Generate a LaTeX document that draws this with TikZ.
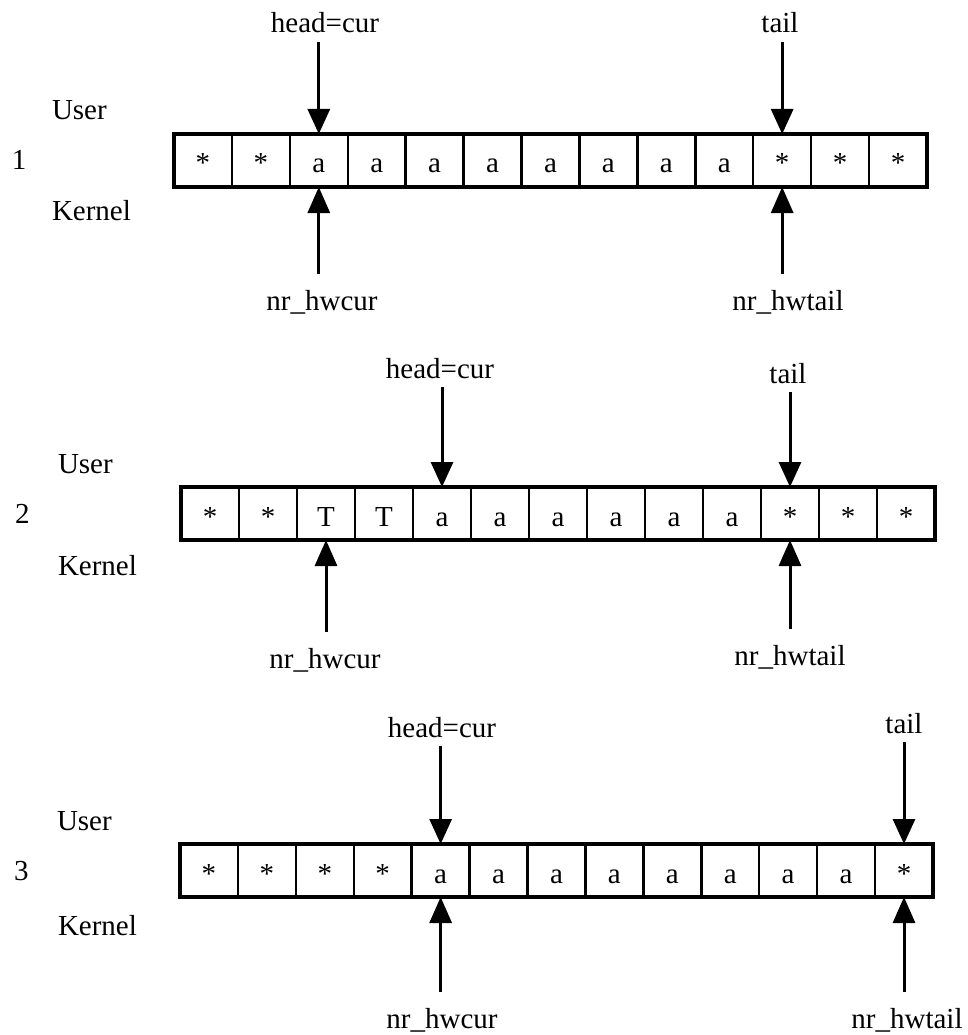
\documentclass[tikz,border=0pt]{standalone}
\usepackage{fontspec}
\setmainfont{Liberation Serif}
\usetikzlibrary{arrows.meta}
\begin{document}
\begin{tikzpicture}[x=1pt,y=-1pt,
  every node/.style={font=\fontsize{29}{34}\selectfont, inner sep=0pt, outer sep=0pt},
  cell/.style={draw, line width=2.5pt, minimum width=57.92pt, minimum height=53pt, text height=25pt, text depth=0pt},
  lab/.style={anchor=base, text height=20pt, text depth=7pt},
  side/.style={anchor=base west},
  down/.style={-{Triangle[length=25pt,width=22pt]}, line width=3pt, shorten <=2pt},
  up/.style={-{Triangle[length=26pt,width=22pt]}, line width=3pt, shorten <=16pt},
  frame/.style={line width=3.5pt}]
\useasboundingbox (0,0) rectangle (967,1035);

% ---------- row 1 ----------
\foreach \ct [count=\i] in {*,*,a,a,a,a,a,a,a,a,*,*,*}
  \node[cell] (r1c\i) at ({174+(\i-0.5)*57.92}, 160.5) {\ct};
\draw[frame] (r1c1.north west) rectangle (r1c13.south east);
\node[side] (u1) at (52,120) {User};
\node[side] (n1) at (12,170) {1};
\node[side] (k1) at (52,220) {Kernel};
\node[lab] (h1) at (325,33) {head=cur};
\node[lab] (t1) at (780,33) {tail};
\node[lab] (hc1) at (322,310) {nr\_hwcur};
\node[lab] (ht1) at (788,310) {nr\_hwtail};
\draw[down] (r1c3.north |- h1.south) -- (r1c3.north);
\draw[down] (r1c11.north |- t1.south) -- (r1c11.north);
\draw[up] (r1c3.south |- hc1.north) -- (r1c3.south);
\draw[up] (r1c11.south |- ht1.north) -- (r1c11.south);

% ---------- row 2 ----------
\foreach \ct [count=\i] in {*,*,T,T,a,a,a,a,a,a,*,*,*}
  \node[cell] (r2c\i) at ({181+(\i-0.5)*58}, 513.5) {\ct};
\draw[frame] (r2c1.north west) rectangle (r2c13.south east);
\node[side] (u2) at (58,473) {User};
\node[side] (n2) at (15,523) {2};
\node[side] (k2) at (58,575) {Kernel};
\node[lab] (h2) at (440,378) {head=cur};
\node[lab] (t2) at (788,383) {tail};
\node[lab] (hc2) at (325,668) {nr\_hwcur};
\node[lab] (ht2) at (790,665) {nr\_hwtail};
\draw[down] (r2c5.north |- h2.south) -- (r2c5.north);
\draw[down] (r2c11.north |- t2.south) -- (r2c11.north);
\draw[up] (r2c3.south |- hc2.north) -- (r2c3.south);
\draw[up] (r2c11.south |- ht2.north) -- (r2c11.south);

% ---------- row 3 ----------
\foreach \ct [count=\i] in {*,*,*,*,a,a,a,a,a,a,a,a,*}
  \node[cell] (r3c\i) at ({180+(\i-0.5)*57.92}, 870.5) {\ct};
\draw[frame] (r3c1.north west) rectangle (r3c13.south east);
\node[side] (u3) at (57,830) {User};
\node[side] (n3) at (14,880) {3};
\node[side] (k3) at (58,935) {Kernel};
\node[lab] (h3) at (442,737) {head=cur};
\node[lab] (t3) at (904,733) {tail};
\node[lab] (hc3) at (442,1028) {nr\_hwcur};
\node[lab] (ht3) at (907,1028) {nr\_hwtail};
\draw[down] (r3c5.north |- h3.south) -- (r3c5.north);
\draw[down] (r3c13.north |- t3.south) -- (r3c13.north);
\draw[up] (r3c5.south |- hc3.north) -- (r3c5.south);
\draw[up] (r3c13.south |- ht3.north) -- (r3c13.south);
\end{tikzpicture}
\end{document}
